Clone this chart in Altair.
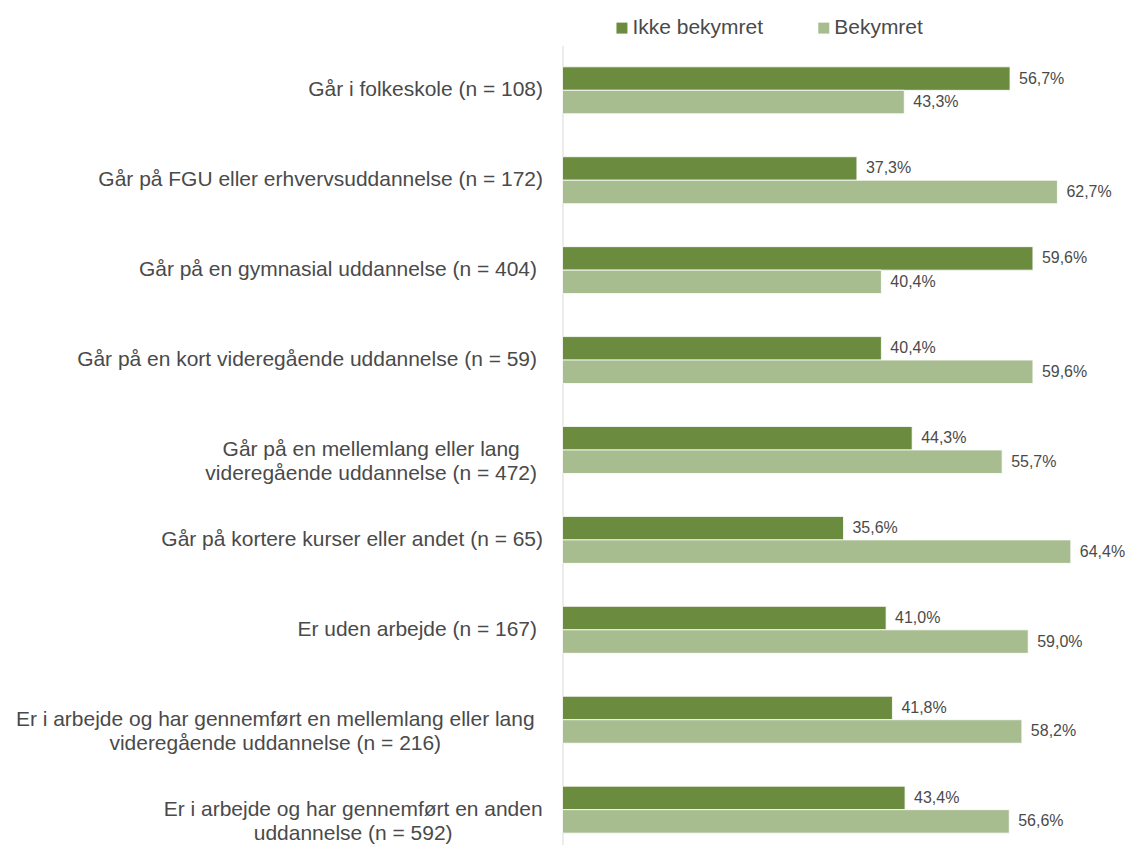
import altair as alt
import pandas as pd

categories = [
    "Går i folkeskole (n = 108)",
    "Går på FGU eller erhvervsuddannelse (n = 172)",
    "Går på en gymnasial uddannelse (n = 404)",
    "Går på en kort videregående uddannelse (n = 59)",
    "Går på en mellemlang eller lang|videregående uddannelse (n = 472)",
    "Går på kortere kurser eller andet (n = 65)",
    "Er uden arbejde (n = 167)",
    "Er i arbejde og har gennemført en mellemlang eller lang|videregående uddannelse (n = 216)",
    "Er i arbejde og har gennemført en anden|uddannelse (n = 592)",
]
series_order = ["Ikke bekymret", "Bekymret"]
ikke_bekymret = [56.7, 37.3, 59.6, 40.4, 44.3, 35.6, 41.0, 41.8, 43.4]
bekymret = [43.3, 62.7, 40.4, 59.6, 55.7, 64.4, 59.0, 58.2, 56.6]
colors = ["#6B8C3F", "#A7BC8F"]

rows = []
for c, a, b in zip(categories, ikke_bekymret, bekymret):
    rows.append({"kategori": c, "serie": series_order[0], "andel": a})
    rows.append({"kategori": c, "serie": series_order[1], "andel": b})
df = pd.DataFrame(rows)

FONT = "Liberation Sans"
TXT = "#4A4A4A"

y_enc = alt.Y(
    "kategori:N",
    sort=categories,
    title=None,
    scale=alt.Scale(range=[0, 810], paddingInner=0.478, paddingOuter=0.239),
    axis=alt.Axis(
        labelExpr="split(datum.label, '|')",
        labelAlign={
            "condition": {"test": "indexof(datum.value, '|') >= 0", "value": "center"},
            "value": "right",
        },
        labelPadding={
            "condition": [
                {"test": "indexof(datum.value, 'n = 472') >= 0", "value": 192},
                {"test": "indexof(datum.value, 'n = 216') >= 0", "value": 288},
                {"test": "indexof(datum.value, 'n = 592') >= 0", "value": 210},
                {"test": "indexof(datum.value, 'n = 404') >= 0", "value": 26},
                {"test": "indexof(datum.value, 'n = 59)') >= 0", "value": 26},
                {"test": "indexof(datum.value, 'n = 167') >= 0", "value": 26},
            ],
            "value": 20,
        },
    ),
)
yoff = alt.YOffset("serie:N", sort=series_order,
                   scale=alt.Scale(paddingInner=0, paddingOuter=0))
x_enc = alt.X("andel:Q", scale=alt.Scale(domain=[0, 70]), axis=None)

base = alt.Chart(df).transform_calculate(
    label="replace(format(datum.andel, '.1f'), '.', ',') + '%'"
)

bars = base.mark_bar(stroke="white", strokeWidth=0.8).encode(
    x=x_enc,
    y=y_enc,
    yOffset=yoff,
    color=alt.Color(
        "serie:N",
        sort=series_order,
        scale=alt.Scale(domain=series_order, range=colors),
        legend=alt.Legend(
            orient="none",
            legendX=49,
            legendY=-28,
            direction="horizontal",
            title=None,
            symbolType="square",
            symbolSize=121,
            symbolStrokeWidth=0,
            labelFontSize=21,
            labelFont=FONT,
            labelColor=TXT,
            labelOffset=0,
            columnPadding=50,
            padding=0,
        ),
    ),
)

text = base.mark_text(
    align="left", baseline="middle", dx=9, fontSize=16, font=FONT, color=TXT
).encode(
    x=x_enc,
    y=y_enc,
    yOffset=yoff,
    text="label:N",
)

chart = (
    alt.layer(bars, text)
    .properties(
        width=553,
        height=800,
        autosize=alt.AutoSizeParams(type="none"),
        padding={"left": 555, "top": 37, "right": 10, "bottom": 0},
    )
    .configure_view(stroke=None)
    .configure_axis(
        domainColor="#D9D9D9",
        domainWidth=1,
        ticks=False,
        grid=False,
        labelFont=FONT,
        labelFontSize=21,
        labelColor=TXT,
        labelLineHeight=24,
        labelLimit=0,
    )
)

chart.save("out.html", embed_options={"renderer": "svg", "actions": False})
